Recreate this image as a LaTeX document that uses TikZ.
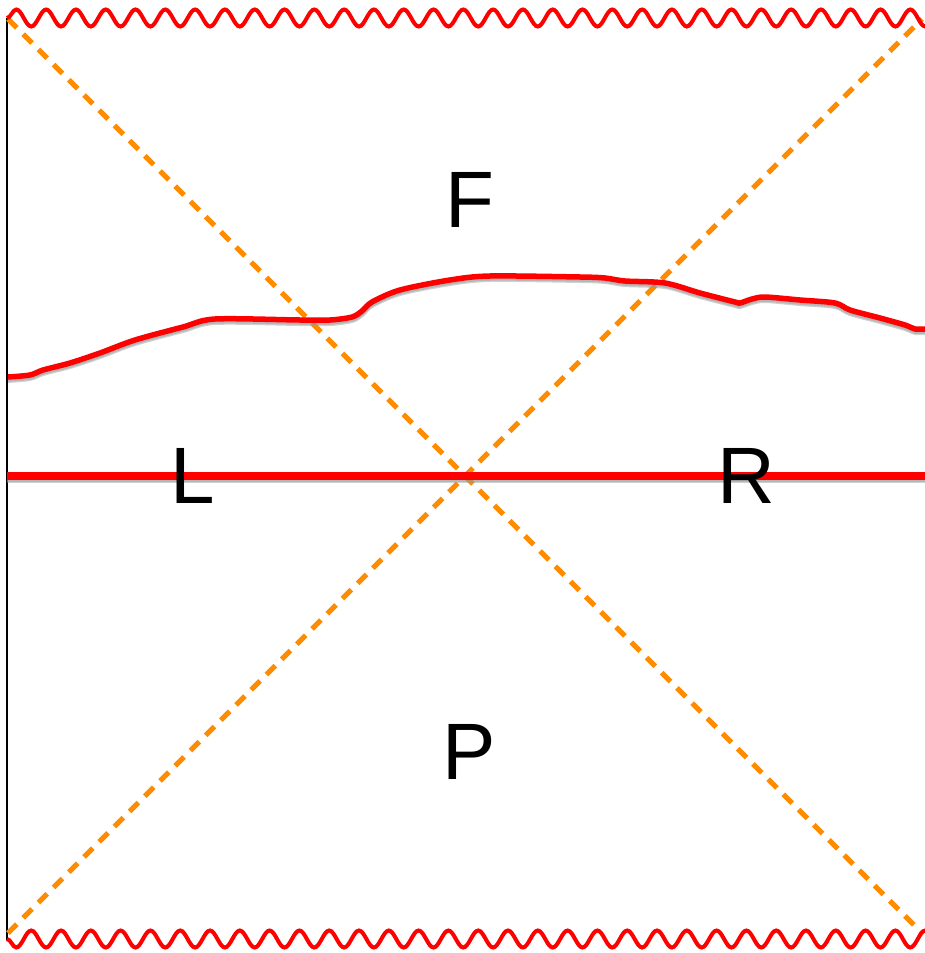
\documentclass[tikz,border=0pt]{standalone}
\usepackage{fontspec}
\setmainfont{Liberation Sans}
\usetikzlibrary{decorations.pathmorphing}
\definecolor{horizonorange}{RGB}{255,140,0}
\definecolor{sliceshade}{RGB}{150,150,150}
\begin{document}
\begin{tikzpicture}[x=1pt, y=-1pt,
    horizon/.style = {
      draw=horizonorange, line width=5pt,
      dash pattern=on 12.5pt off 9pt
    }, singularity/.style = {
      draw=red, line width=4pt,
      decorate, decoration={snake, segment length=29.8pt, amplitude=8.5pt}
    }, slice/.style = {
      draw=red, line width=7.5pt
    }, shade/.style = {
      draw=sliceshade, opacity=0.45
    }
  ]
  \tikzset{region/.style={font=\fontsize{80}{80}\selectfont,inner sep=0pt}}
  \useasboundingbox (0,0) rectangle (924,953);
  \coordinate (tl) at (8,19);
  \coordinate (tr) at (922,19);
  \coordinate (bl) at (8,933);
  \coordinate (br) at (922,933);
  \coordinate (edgetop) at (7,18);
  \coordinate (edgebot) at (7,940);
  \coordinate (sliceL) at (7,476);
  \coordinate (sliceR) at (930,476);
  \draw[line width=2pt] (edgetop) -- (edgebot);
  \draw[horizon] (tl) -- (br);
  \draw[horizon] (bl) -- (tr);
  \foreach \dy/\w in {4/6pt, 2/7pt} {
    \draw[shade, line width=\w] ([yshift=-\dy pt]sliceL) -- ([yshift=-\dy pt]sliceR);
  }
  \draw[slice] (sliceL) -- (sliceR);
  \foreach \dy/\w in {3.5/5pt, 2/5.5pt} {
    \draw[shade, line width=\w, yshift=-\dy pt] plot[smooth, tension=0.5] coordinates {
      (8,377) (30,375) (43,370) (70,363) (100,353) (135,340) (183,327)
      (215,319) (300,320) (330,320) (352,317) (362,311) (372,302) (400,290)
      (450,280) (490,276) (580,277) (605,278) (625,281) (665,283) (700,293)
      (735,302) (740,303) (752,299) (765,297) (800,300) (835,303) (850,310)
      (880,318) (905,325) (915,329) (926,329)};
  }
  \draw[red, line width=5.5pt, line join=round] plot[smooth, tension=0.5] coordinates {
      (8,377) (30,375) (43,370) (70,363) (100,353) (135,340) (183,327)
      (215,319) (300,320) (330,320) (352,317) (362,311) (372,302) (400,290)
      (450,280) (490,276) (580,277) (605,278) (625,281) (665,283) (700,293)
      (735,302) (740,303) (752,299) (765,297) (800,300) (835,303) (850,310)
      (880,318) (905,325) (915,329) (926,329)};
  \coordinate (waveTL) at (7,18);
  \coordinate (waveTR) at (935,18);
  \coordinate (waveBL) at (7,939);
  \coordinate (waveBR) at (935,939);
  \draw[singularity] (waveTL) -- (waveTR);
  \draw[singularity, decoration={mirror}] (waveBL) -- (waveBR);
  \node[region] (future) at (470,200) {F};
  \node[region] (left)   at (193,476) {L};
  \node[region] (right)  at (746,476) {R};
  \node[region] (past)   at (469,752) {P};
\end{tikzpicture}
\end{document}
